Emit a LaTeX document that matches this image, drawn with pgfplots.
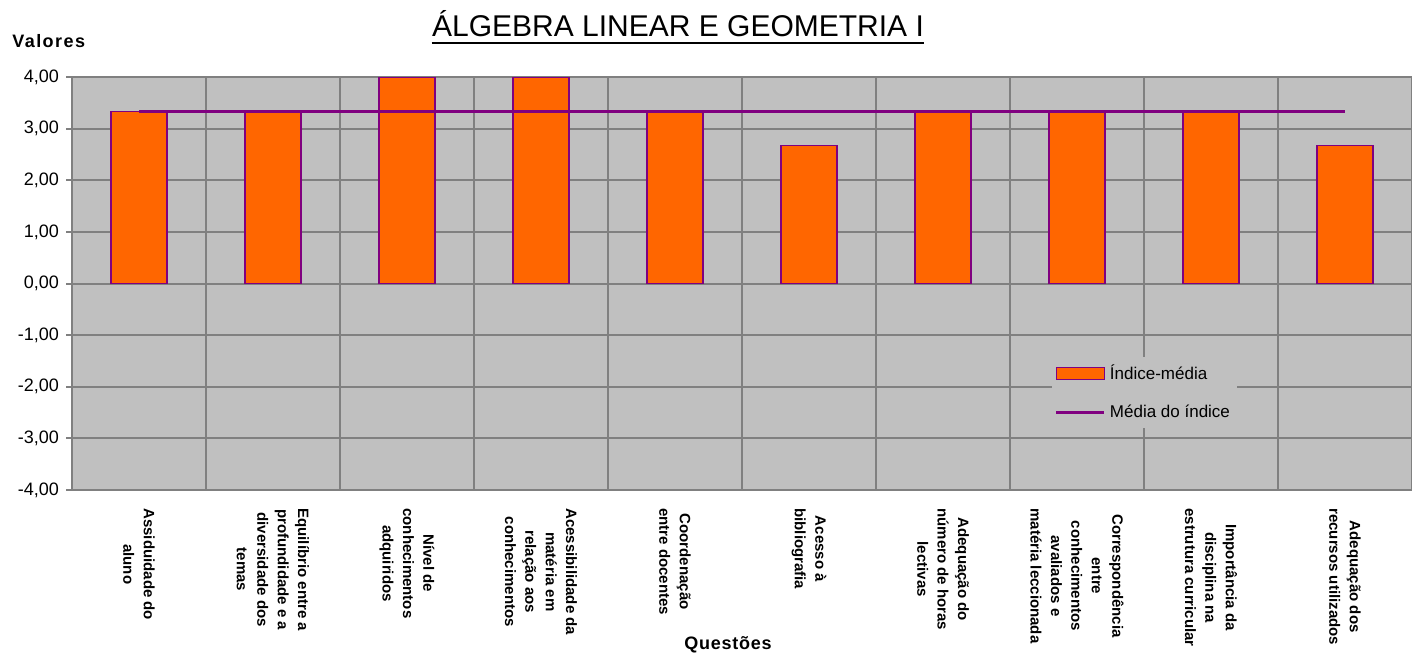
\documentclass[border=0pt]{standalone}
\usepackage{fontspec}
\setmainfont{Liberation Sans}
\usepackage{pgfplots}
\pgfplotsset{compat=1.18}
\definecolor{bggray}{HTML}{C0C0C0}
\definecolor{gridgray}{HTML}{808080}
\definecolor{barorange}{HTML}{FF6600}
\definecolor{edgepurple}{HTML}{800080}

\begin{document}
\begin{tikzpicture}
\useasboundingbox (0,0) rectangle (706pt,326.5pt);
\begin{axis}[
    at={(36pt,81.5pt)}, anchor=south west,
    scale only axis, width=670pt, height=206.5pt,
    xmin=0.5, xmax=10.5, ymin=-4, ymax=4,
    axis background/.style={fill=bggray},
    axis line style={gridgray, line width=1pt},
    xtick={1,...,10},
    xticklabels={
        {Assiduidade do\\aluno},
        {Equilíbrio entre a\\profundidade e a\\diversidade dos\\temas},
        {Nível de\\conhecimentos\\adquiridos},
        {Acessibilidade da\\matéria em\\relação aos\\conhecimentos},
        {Coordenação\\entre docentes},
        {Acesso à\\bibliografia},
        {Adequação do\\número de horas\\lectivas},
        {Correspondência\\entre\\conhecimentos\\avaliados e\\matéria leccionada},
        {Importância da\\disciplina na\\estrutura curricular},
        {Adequação dos\\recursos utilizados}},
    xticklabel style={rotate=-90, anchor=west, align=center,
        font=\fontsize{7.5}{10.2}\selectfont\bfseries, inner sep=6pt},
    xtick style={draw=none},
    minor xtick={1.5,2.5,...,9.5},
    minor tick length=0pt,
    xminorgrids,
    ytick={-4,-3,...,4},
    ymajorgrids,
    grid style={gridgray, line width=1pt},
    minor grid style={gridgray, line width=1pt},
    tick align=outside,
    major tick length=3pt,
    ytick style={gridgray, line width=1pt},
    ytick pos=left, xtick pos=bottom,
    yticklabel style={font=\fontsize{9}{10}\selectfont},
    /pgf/number format/.cd, fixed, fixed zerofill, precision=2, use comma, assume math mode=true,
    /pgfplots/.cd,
    legend style={at={(0.731,0.322)}, anchor=north west, fill=bggray, draw=none,
        font=\fontsize{8.5}{10}\selectfont, row sep=7.5pt, inner sep=1.5pt},
    legend cell align=left,
]
\addplot[ybar, bar width=28pt, fill=barorange, draw=edgepurple, line width=0.75pt,
    legend image code/.code={\draw[fill=barorange, draw=edgepurple, line width=0.75pt] (0pt,-3pt) rectangle (24pt,3pt);}]
    coordinates {
    (1,3.33) (2,3.33) (3,4.00) (4,4.00) (5,3.33)
    (6,2.67) (7,3.33) (8,3.33) (9,3.33) (10,2.67)
};
\addlegendentry{Índice-média}
\addplot[sharp plot, edgepurple, line width=1.5pt, mark=none,
    legend image code/.code={\draw[edgepurple, line width=1.5pt] (0pt,0pt) -- (24pt,0pt);}]
    coordinates {(1,3.33) (10,3.33)};
\addlegendentry{Média do índice}
\end{axis}
\node[anchor=base, inner sep=0pt, font=\fontsize{15}{17}\selectfont] (title) at (339pt,308pt) {ÁLGEBRA LINEAR E GEOMETRIA I};
\draw[line width=1.4pt] ([yshift=-3pt]title.base west) -- ([yshift=-3pt]title.base east);
\node[anchor=base west, inner sep=0pt, font=\fontsize{9}{10}\selectfont\bfseries] at (6pt,302.5pt) {\addfontfeature{LetterSpace=8}Valores};
\node[anchor=base, inner sep=0pt, font=\fontsize{9}{10}\selectfont\bfseries] at (364pt,2pt) {\addfontfeature{LetterSpace=4}Questões};
\end{tikzpicture}
\end{document}
